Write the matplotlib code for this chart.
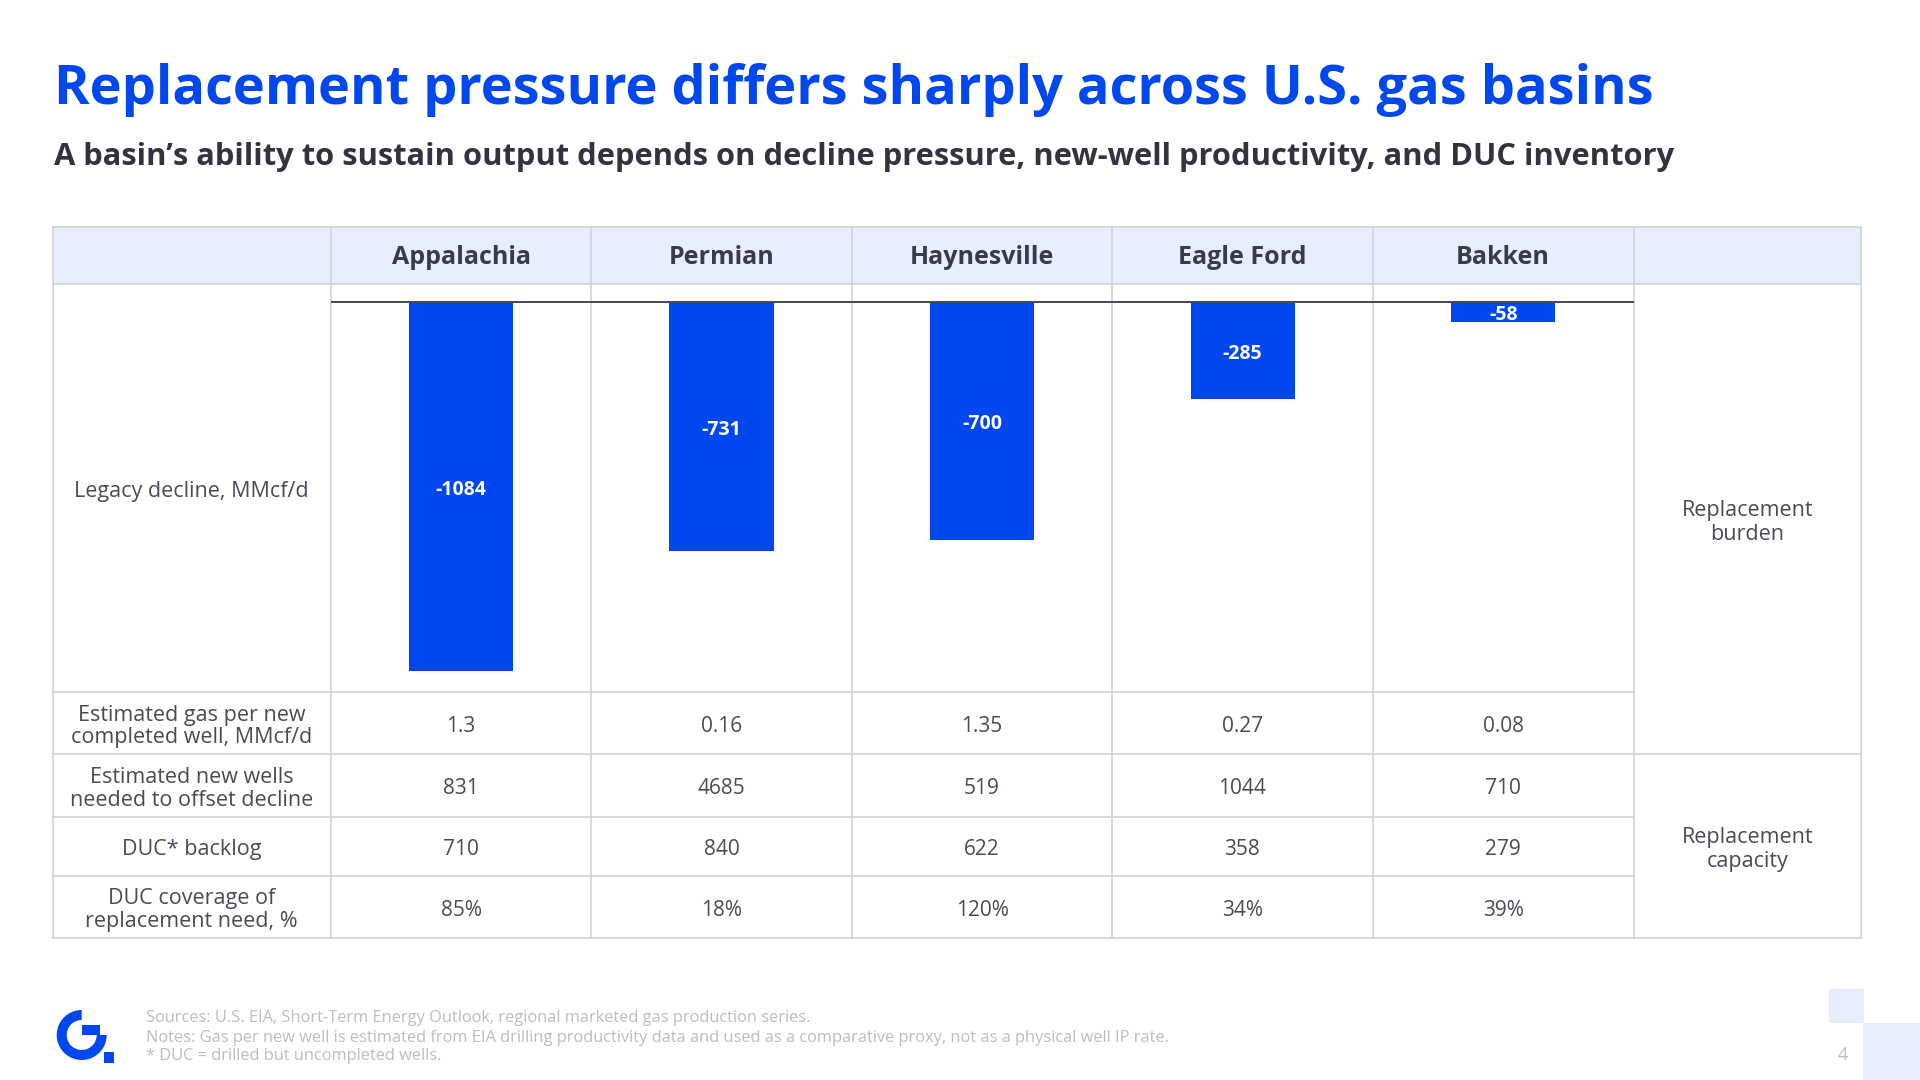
import numpy as np
import matplotlib.pyplot as plt
from matplotlib.patches import Rectangle, Wedge

plt.rcParams['font.family'] = ['Open Sans', 'DejaVu Sans']

# data
basins = ['Appalachia', 'Permian', 'Haynesville', 'Eagle Ford', 'Bakken']
legacy_decline = [-1084, -731, -700, -285, -58]
gas_per_well = [1.3, 0.16, 1.35, 0.27, 0.08]
wells_needed = [831, 4685, 519, 1044, 710]
duc_backlog = [710, 840, 622, 358, 279]
duc_coverage = [85, 18, 120, 34, 39]

row_labels = ['Legacy decline, MMcf/d',
              'Estimated gas per new\ncompleted well, MMcf/d',
              'Estimated new wells\nneeded to offset decline',
              'DUC* backlog',
              'DUC coverage of\nreplacement need, %']

BLUE = '#0047EE'
GRID = '#CFCFD4'
HEAD_BG = '#E8EEFD'
TXT = '#4A4A58'
DY = 3.5  # small vertical nudge for cell text

fig = plt.figure(figsize=(19.2, 10.8), dpi=100)
bg = fig.add_axes([0, 0, 1, 1])
bg.set_xlim(0, 1920)
bg.set_ylim(1080, 0)
bg.axis('off')

# table layout (pixels)
x_cols = [53, 330.6, 591.4, 852.3, 1111.8, 1372.7, 1633.5, 1861]
y_rows = [226.5, 284, 692, 754, 817, 875.5, 938]

bg.add_patch(Rectangle((x_cols[0], y_rows[0]), x_cols[-1] - x_cols[0], y_rows[1] - y_rows[0],
                       facecolor=HEAD_BG, edgecolor='none', zorder=0))
lw = 1.1
# outer frame + full-width lines
for y in [y_rows[0], y_rows[1], y_rows[3], y_rows[-1]]:
    bg.plot([x_cols[0], x_cols[-1]], [y, y], color=GRID, lw=lw, zorder=1)
for y in [y_rows[2], y_rows[4], y_rows[5]]:
    bg.plot([x_cols[0], x_cols[-2]], [y, y], color=GRID, lw=lw, zorder=1)
for x in x_cols:
    bg.plot([x, x], [y_rows[0], y_rows[-1]], color=GRID, lw=lw, zorder=1)

# headers
for i, b in enumerate(basins):
    cx = (x_cols[i + 1] + x_cols[i + 2]) / 2
    bg.text(cx, (y_rows[0] + y_rows[1]) / 2 + 2, b, ha='center', va='center',
            fontsize=18, fontweight='bold', color='#3A3A4A')

# row labels
for r, lab in enumerate(row_labels):
    cy = (y_rows[r + 1] + y_rows[r + 2]) / 2 + DY
    bg.text((x_cols[0] + x_cols[1]) / 2, cy, lab, ha='center', va='center',
            fontsize=15.5, color=TXT, linespacing=1.1)

# value rows
value_rows = [[f'{v:g}' for v in gas_per_well],
              [str(v) for v in wells_needed],
              [str(v) for v in duc_backlog],
              [f'{v}%' for v in duc_coverage]]
for r, vals in enumerate(value_rows):
    cy = (y_rows[r + 2] + y_rows[r + 3]) / 2 + DY
    for i, v in enumerate(vals):
        cx = (x_cols[i + 1] + x_cols[i + 2]) / 2
        bg.text(cx, cy, v, ha='center', va='center', fontsize=15, color=TXT)

# group labels on the right
gx = (x_cols[-2] + x_cols[-1]) / 2
bg.text(gx, (y_rows[1] + y_rows[3]) / 2 + DY, 'Replacement\nburden', ha='center', va='center',
        fontsize=15.5, color=TXT, linespacing=1.15)
bg.text(gx, (y_rows[3] + y_rows[-1]) / 2 + DY, 'Replacement\ncapacity', ha='center', va='center',
        fontsize=15.5, color=TXT, linespacing=1.15)

# bar chart in the first row
ax = fig.add_axes([x_cols[1] / 1920, 1 - y_rows[2] / 1080,
                   (x_cols[-2] - x_cols[1]) / 1920, (y_rows[2] - y_rows[1]) / 1080])
ax.patch.set_alpha(0)
xs = np.arange(len(basins))
ax.bar(xs, legacy_decline, width=0.4, color=BLUE, zorder=2)
ax.axhline(0, color='#454555', lw=1.4, zorder=3)
for x, v in zip(xs, legacy_decline):
    ax.annotate(str(v), (x, v / 2), xytext=(0, -2.2), textcoords='offset points',
                ha='center', va='center', color='white',
                fontsize=14, fontweight='bold', zorder=4)
ax.set_xlim(-0.5, len(basins) - 0.5)
ax.set_ylim(-1146, 54)
ax.axis('off')

# title & subtitle
bg.text(54, 104, 'Replacement pressure differs sharply across U.S. gas basins',
        fontsize=39, fontweight='bold', color=BLUE, va='baseline')
bg.text(54, 165, "A basin\u2019s ability to sustain output depends on decline pressure, "
        "new-well productivity, and DUC inventory",
        fontsize=22.2, fontweight='bold', color='#333340', va='baseline')

# footer notes
notes = ['Sources: U.S. EIA, Short-Term Energy Outlook, regional marketed gas production series.',
         'Notes: Gas per new well is estimated from EIA drilling productivity data and used as a '
         'comparative proxy, not as a physical well IP rate.',
         '* DUC = drilled but uncompleted wells.']
for k, n in enumerate(notes):
    bg.text(146, 1018.5 + k * 19, n, fontsize=11.8, color='#BDBDBD', va='center')

# logo
bg.add_patch(Wedge((81.7, 1035), 25, 0, 270, width=10, facecolor=BLUE, edgecolor='none'))
bg.add_patch(Rectangle((81.7, 1025), 18.5, 9.5, facecolor=BLUE, edgecolor='none'))
bg.add_patch(Rectangle((104.3, 1052.3), 10, 10.4, facecolor=BLUE, edgecolor='none'))

# corner decoration + page number
bg.add_patch(Rectangle((1829, 989), 35, 34, facecolor='#E8EDFD', edgecolor='none'))
bg.add_patch(Rectangle((1863, 1023), 57, 57, facecolor='#E8EDFD', edgecolor='none'))
bg.text(1843, 1055, '4', fontsize=13, color='#BDBDBD', ha='center', va='center')

fig.savefig('out.png', dpi=100)
